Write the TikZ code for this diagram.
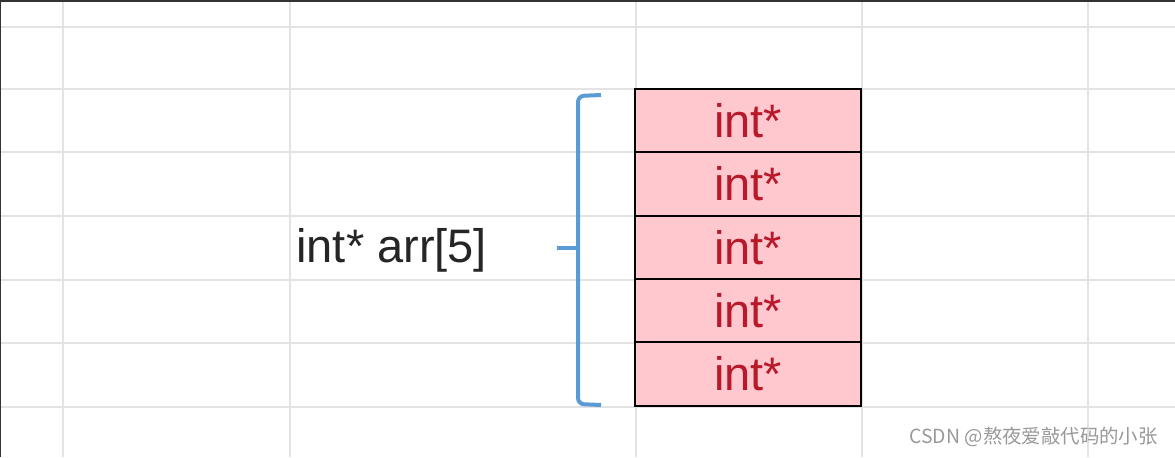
\documentclass[tikz,border=0pt]{standalone}
\usepackage{fontspec}
\setmainfont{Liberation Sans}
\newfontfamily\cjkfont{Noto Sans CJK SC}
\usetikzlibrary{positioning}

\definecolor{gridgray}{HTML}{E3E3E3}
\definecolor{cellfill}{HTML}{FFC7CE}
\definecolor{celltext}{HTML}{B8182A}
\definecolor{bracketblue}{HTML}{5B9BD5}

\tikzset{
  cell/.style={draw=black, line width=1pt, fill=cellfill, text=celltext,
    minimum width=113pt, minimum height=31.7pt, inner sep=0pt, outer sep=0pt,
    font=\fontsize{23.5}{28}\selectfont},
  gridline/.style={gridgray, line width=1pt},
  bracketline/.style={bracketblue, line width=2pt, rounded corners=3pt},
}

\begin{document}
\begin{tikzpicture}[x=0.5pt, y=-0.5pt]
    \useasboundingbox[fill=white] (0,0) rectangle (1175,457);

    % Sheet grid
    \foreach \gx in {63, 290, 636, 862, 1088}
        \draw[gridline] (\gx, 0) -- (\gx, 457);
    \foreach \gy in {27, 89, 152, 216, 280, 343, 407}
        \draw[gridline] (0, \gy) -- (1175, \gy);
    \draw[black!80, line width=1.5pt] (0, 0) -- (1175, 0);
    \draw[black!80, line width=1pt] (0, 0) -- (0, 457);

    % Array cells
    \node[cell] (cell1) at (748, 120.5) {int*};
    \node[cell, below=0pt of cell1] (cell2) {int*};
    \node[cell, below=0pt of cell2] (cell3) {int*};
    \node[cell, below=0pt of cell3] (cell4) {int*};
    \node[cell, below=0pt of cell4] (cell5) {int*};

    % Bracket
    \draw[bracketline] (601, 95) -- (578, 96) -- (578, 404) -- (601, 405);
    \draw[bracketline] (557, 248) -- (578, 248);

    % Declaration
    \node[anchor=west, text=black!85, inner sep=0pt,
          font=\fontsize{23.5}{28}\selectfont] (decl) at (296, 250) {int* arr[5]};

    % Watermark
    \node[anchor=east, text=black!40, inner sep=0pt,
          font=\cjkfont\fontsize{9.7}{12}\selectfont] (mark) at (1158, 437) {CSDN @熬夜爱敲代码的小张};
\end{tikzpicture}
\end{document}
